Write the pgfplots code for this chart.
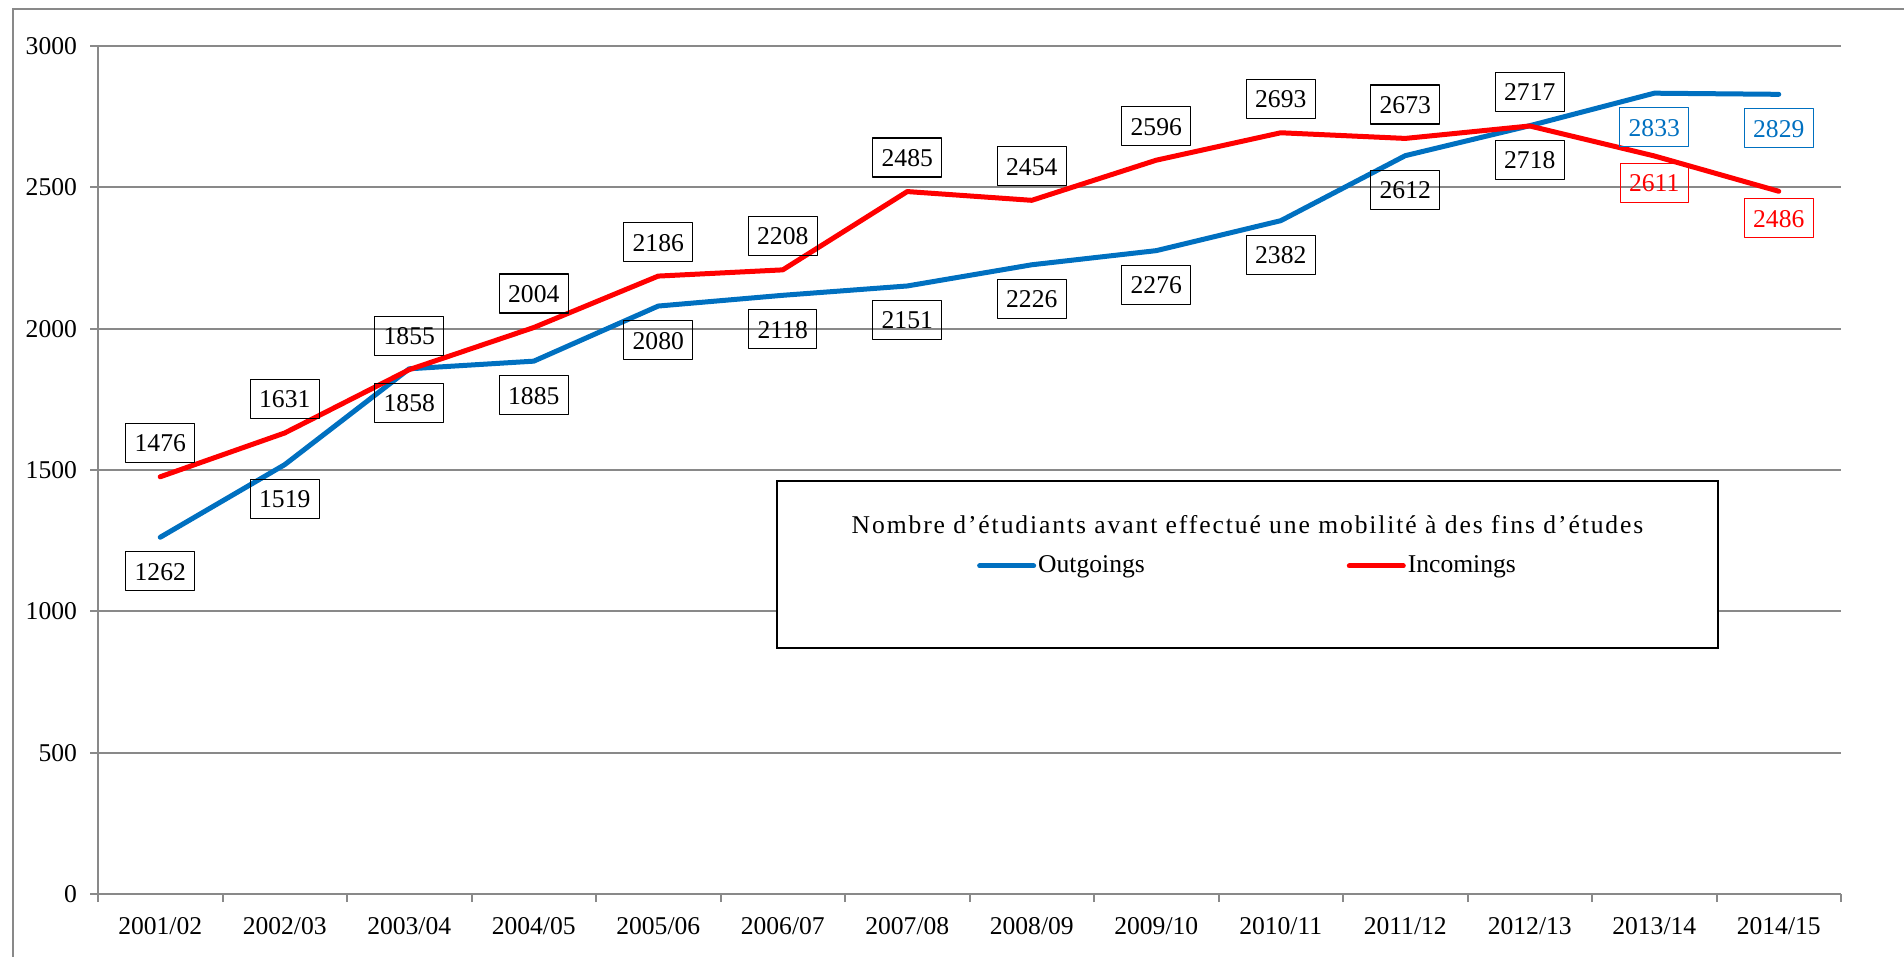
\documentclass[border=0pt]{standalone}
\usepackage{fontspec}
\setmainfont{Liberation Serif}
\usepackage{pgfplots}
\pgfplotsset{compat=1.18}
\definecolor{blu}{HTML}{0070C0}
\definecolor{rd}{HTML}{FF0000}
\definecolor{grd}{HTML}{898989}
\newcommand{\fs}{\fontsize{12.8pt}{15pt}\selectfont}
\begin{document}
\begin{tikzpicture}
\useasboundingbox (0,0) rectangle (952pt,478.5pt);
\draw[grd, line width=1pt] (6.5pt,0) -- (6.5pt,474pt) -- (952pt,474pt);
\begin{axis}[
  at={(49pt,31.5pt)}, anchor=south west,
  scale only axis, width=871.5pt, height=424pt,
  font=\fs,
  /pgf/number format/assume math mode=true,
  /pgf/number format/1000 sep={},
  xmin=-0.5, xmax=13.5, ymin=0, ymax=3000,
  ytick={0,500,...,3000},
  xtick={-0.5,0.5,...,13.5},
  x tick label as interval,
  xticklabels={2001/02,2002/03,2003/04,2004/05,2005/06,2006/07,2007/08,2008/09,2009/10,2010/11,2011/12,2012/13,2013/14,2014/15},
  axis x line*=bottom, axis y line*=left,
  axis line style={grd, line width=1pt, -},
  tick style={grd, line width=1pt},
  tick align=outside, major tick length=4pt,
  ymajorgrids, grid style={grd, line width=1pt},
  yticklabel style={font=\fs, xshift=-3pt},
  xticklabel style={font=\fs, yshift=-4pt},
  legend style={at={(0.6595,0.3868)}, anchor=center, draw=none, fill=none,
    font=\fs, legend columns=2, nodes={inner sep=1pt},
    /tikz/every even column/.append style={column sep=100pt}},
  legend image code/.code={\draw[#1] (0pt,0pt) -- (27pt,0pt);},
  every axis plot/.append style={line join=round, line cap=round},
]
\draw[black, line width=0.75pt, fill=white] (rel axis cs:0.3896,0.2901) rectangle (rel axis cs:0.9294,0.4870);
\node[font=\fs\addfontfeature{LetterSpace=7.4}] at (rel axis cs:0.6595,0.4351) {Nombre d’étudiants avant effectué une mobilité à des fins d’études};
\addplot[blu, line width=2.5pt, mark=none] coordinates {
(0,1262)(1,1519)(2,1858)(3,1885)(4,2080)(5,2118)(6,2151)(7,2226)(8,2276)(9,2382)(10,2612)(11,2718)(12,2833)(13,2829)};
\addplot[rd, line width=2.5pt, mark=none] coordinates {
(0,1476)(1,1631)(2,1855)(3,2004)(4,2186)(5,2208)(6,2485)(7,2454)(8,2596)(9,2693)(10,2673)(11,2717)(12,2611)(13,2486)};
\legend{Outgoings,Incomings}
% labels
\pgfplotsset{lbl/.style={draw=none, mark=none, forget plot, nodes near coords,
  every node near coord/.append style={anchor=center, draw=#1, text=#1, line width=0.6pt,
   inner xsep=4.5pt, inner ysep=5.25pt, text height=9pt, text depth=0pt, font=\fs}}}
\addplot[lbl=black, every node near coord/.append style={yshift=-17pt}] coordinates {
(0,1262)(1,1519)(2,1858)(3,1885)(4,2080)(5,2118)(6,2151)(7,2226)(8,2276)(9,2382)(10,2612)(11,2718)};
\addplot[lbl=blu, every node near coord/.append style={yshift=-17pt}] coordinates {(12,2833)(13,2829)};
\addplot[lbl=black, every node near coord/.append style={yshift=17pt}] coordinates {
(0,1476)(1,1631)(2,1855)(3,2004)(4,2186)(5,2208)(6,2485)(7,2454)(8,2596)(9,2693)(10,2673)(11,2717)};
\addplot[lbl=rd, every node near coord/.append style={yshift=-13.5pt}] coordinates {(12,2611)(13,2486)};
\end{axis}
\end{tikzpicture}
\end{document}
